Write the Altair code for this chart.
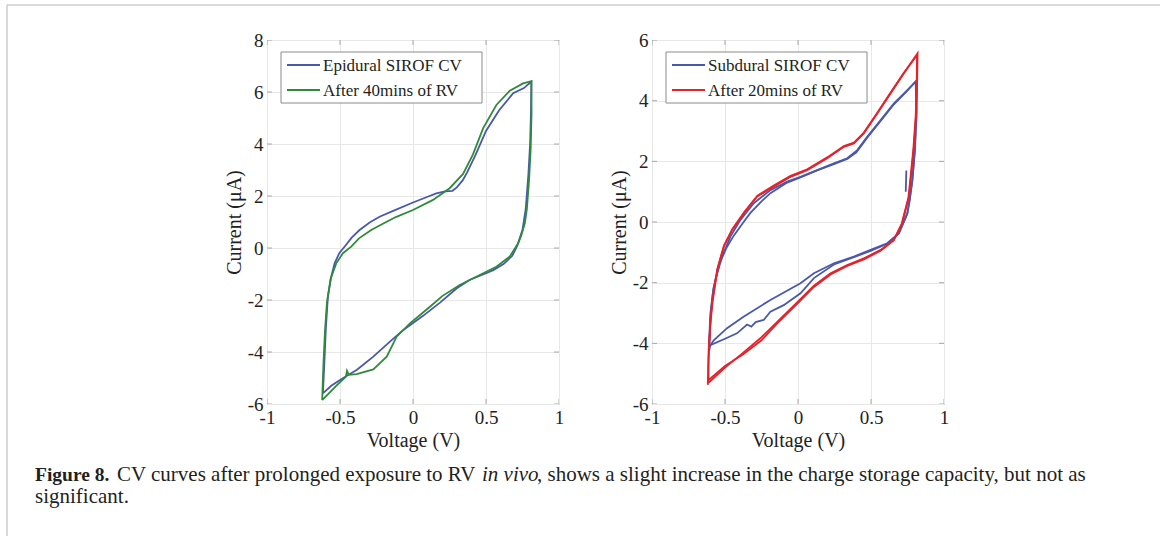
import altair as alt
import pandas as pd

# ---------------- data ----------------
x_ticks = [-1, -0.5, 0, 0.5, 1]
left_y_ticks = [-6, -4, -2, 0, 2, 4, 6, 8]
right_y_ticks = [-6, -4, -2, 0, 2, 4, 6]

epi_name = "Epidural SIROF CV"
rv40_name = "After 40mins of RV"
sub_name = "Subdural SIROF CV"
rv20_name = "After 20mins of RV"

epi_v = [-0.617, -0.607, -0.597, -0.583, -0.56, -0.537, -0.505, -0.469, -0.42, -0.366, -0.297, -0.229, -0.14, 0.0,
         0.1, 0.16, 0.22, 0.27, 0.30, 0.34, 0.37, 0.43, 0.50, 0.59, 0.686, 0.76, 0.79, 0.811,
         0.808, 0.802, 0.79, 0.772, 0.75, 0.715, 0.68, 0.62, 0.55, 0.48, 0.39, 0.30, 0.185, 0.071, -0.066, -0.158,
         -0.272, -0.386, -0.45, -0.5, -0.56, -0.617]
epi_i = [-5.59, -4.4, -3.1, -1.87, -1.1, -0.59, -0.2, 0.05, 0.4, 0.69, 0.98, 1.2, 1.42, 1.75,
         1.97, 2.1, 2.18, 2.2, 2.33, 2.6, 2.9, 3.6, 4.5, 5.3, 5.95, 6.15, 6.3, 6.4,
         5.2, 4.0, 2.8, 1.5, 0.7, 0.1, -0.3, -0.62, -0.85, -1.02, -1.22, -1.55, -2.1, -2.6, -3.15, -3.6,
         -4.18, -4.69, -4.9, -5.08, -5.3, -5.59]

rv40_v = [-0.622, -0.613, -0.603, -0.59, -0.565, -0.526, -0.48, -0.423, -0.37, -0.286, -0.2, -0.114, 0.0, 0.137,
          0.251, 0.343, 0.411, 0.48, 0.571, 0.663, 0.754, 0.811,
          0.812, 0.806, 0.795, 0.78, 0.766, 0.74, 0.72, 0.663, 0.571, 0.457, 0.32, 0.20, 0.116, -0.021, -0.112,
          -0.18, -0.272, -0.386, -0.44, -0.452, -0.46, -0.526, -0.622]
rv40_i = [-5.85, -4.4, -3.2, -2.13, -1.2, -0.59, -0.2, 0.05, 0.37, 0.69, 0.95, 1.2, 1.46, 1.85,
          2.3, 2.85, 3.6, 4.6, 5.5, 6.05, 6.33, 6.42,
          5.2, 3.8, 2.62, 1.5, 0.95, 0.45, 0.18, -0.33, -0.72, -1.04, -1.42, -1.85, -2.26, -2.9, -3.41,
          -4.18, -4.67, -4.85, -4.88, -4.72, -4.95, -5.3, -5.85]

sub_v1 = [-0.611, -0.605, -0.6, -0.585, -0.566, -0.52, -0.463, -0.394, -0.303, -0.189, -0.074, 0.017, 0.131,
          0.246, 0.337, 0.406, 0.474, 0.566, 0.657, 0.749, 0.806,
          0.81, 0.8, 0.783, 0.765, 0.749, 0.691, 0.611, 0.497, 0.383, 0.246, 0.109, 0.017, -0.189, -0.373,
          -0.486, -0.577, -0.605]
sub_i1 = [-4.22, -3.5, -3.01, -2.4, -1.91, -1.14, -0.48, 0.07, 0.62, 1.05, 1.33, 1.49, 1.71,
          1.93, 2.10, 2.37, 2.81, 3.36, 3.91, 4.35, 4.63,
          3.6, 2.4, 1.38, 0.7, 0.29, -0.37, -0.70, -0.92, -1.14, -1.36, -1.69, -2.02, -2.57, -3.12,
          -3.5, -3.9, -4.1]
sub_v2 = [-0.605, -0.608, -0.6, -0.58, -0.54, -0.49, -0.44, -0.38, -0.326, -0.25, -0.189, -0.074, 0.017, 0.131,
          0.246, 0.337, 0.40, 0.474, 0.566, 0.657, 0.749, 0.814,
          0.812, 0.8, 0.783, 0.749, 0.691, 0.611, 0.497, 0.383, 0.246, 0.109, 0.017, -0.098, -0.189, -0.235,
          -0.29, -0.32, -0.349, -0.418, -0.5, -0.601, -0.608]
sub_i2 = [-4.1, -4.25, -3.2, -2.2, -1.4, -0.85, -0.45, -0.05, 0.3, 0.68, 0.95, 1.3, 1.47, 1.7,
          1.91, 2.08, 2.3, 2.78, 3.33, 3.88, 4.33, 4.68,
          3.5, 2.3, 1.35, 0.27, -0.38, -0.72, -0.95, -1.16, -1.40, -1.85, -2.35, -2.74, -2.96, -3.23,
          -3.30, -3.45, -3.38, -3.67, -3.85, -4.06, -4.25]
sub_v0 = [0.738, 0.742]
sub_i0 = [1.0, 1.7]

rv20_v1 = [-0.618, -0.614, -0.611, -0.6, -0.589, -0.554, -0.509, -0.451, -0.371, -0.28, -0.166, -0.051, 0.063,
           0.2, 0.314, 0.383, 0.451, 0.543, 0.634, 0.726, 0.819,
           0.816, 0.81, 0.794, 0.776, 0.76, 0.714, 0.657, 0.566, 0.451, 0.337, 0.223, 0.109, -0.006, -0.144,
           -0.25, -0.373, -0.5, -0.613]
rv20_i1 = [-5.37, -4.5, -4.11, -3.3, -2.68, -1.58, -0.81, -0.26, 0.29, 0.84, 1.16, 1.49, 1.71,
           2.10, 2.48, 2.59, 2.92, 3.58, 4.24, 4.90, 5.56,
           4.6, 3.6, 2.48, 1.6, 0.84, -0.04, -0.59, -0.92, -1.20, -1.42, -1.69, -2.1, -2.65, -3.3,
           -3.8, -4.3, -4.8, -5.3]
rv20_v2 = [-0.613, -0.612, -0.608, -0.598, -0.585, -0.55, -0.505, -0.447, -0.368, -0.278, -0.166, -0.051, 0.063,
           0.2, 0.314, 0.383, 0.451, 0.543, 0.634, 0.726, 0.815,
           0.813, 0.806, 0.79, 0.772, 0.756, 0.71, 0.655, 0.566, 0.451, 0.337, 0.223, 0.109, -0.006, -0.144,
           -0.25, -0.373, -0.5, -0.61]
rv20_i2 = [-5.3, -4.6, -4.05, -3.25, -2.62, -1.52, -0.76, -0.21, 0.33, 0.87, 1.2, 1.52, 1.74,
           2.13, 2.5, 2.62, 2.95, 3.6, 4.27, 4.93, 5.5,
           4.5, 3.5, 2.4, 1.55, 0.8, -0.06, -0.61, -0.95, -1.23, -1.45, -1.73, -2.14, -2.7, -3.35,
           -3.9, -4.35, -4.75, -5.2]

caption_bold = "Figure 8."
caption_a = "CV curves after prolonged exposure to RV"
caption_italic = "in vivo"
caption_b = ", shows a slight increase in the charge storage capacity, but not as"
caption_line2 = "significant."

# ---------------- styling ----------------
FONT = "Liberation Serif"
BLUE = "#4a58ac"
GREEN = "#2f8a3b"
RED = "#e5222c"
BOX = "#8a8a8a"
W, H = 292, 364
one = pd.DataFrame({"k": [0]})


def series_df(name, cycles):
    rows = []
    for k, (vs, cs) in enumerate(cycles):
        for j, (v, c) in enumerate(zip(vs, cs)):
            rows.append({"V": v, "I": c, "series": name, "seg": k, "ord": j})
    return pd.DataFrame(rows)


def text(txt, x, y, size=21, weight="normal", style="normal"):
    return alt.Chart(one).mark_text(
        text=txt, align="left", baseline="alphabetic", font=FONT, fontSize=size,
        fontWeight=weight, fontStyle=style, color="#231f20",
    ).encode(x=alt.value(x), y=alt.value(y))


def legend_layers(names, colors):
    out = [
        alt.Chart(one).mark_rect(fill="white", stroke=BOX, strokeWidth=1).encode(
            x=alt.value(14), x2=alt.value(215), y=alt.value(12), y2=alt.value(63))
    ]
    for k, (nm, col) in enumerate(zip(names, colors)):
        yy = 25 + 25 * k
        out.append(alt.Chart(one).mark_rule(color=col, strokeWidth=1.8).encode(
            x=alt.value(20), x2=alt.value(53), y=alt.value(yy)))
        out.append(text(nm, 56, yy + 6, size=17))
    return out


def panel(dfs, names, colors, ydom, yticks, extra=None):
    xs = alt.Scale(domain=[-1, 1], nice=False, zero=False)
    ys = alt.Scale(domain=ydom, nice=False, zero=False)
    x = alt.X("V:Q", scale=xs, axis=alt.Axis(values=x_ticks, title="Voltage (V)", labelExpr="toString(datum.value)"))
    y = alt.Y("I:Q", scale=ys, axis=alt.Axis(values=yticks, title="Current (\u03bcA)", labelExpr="toString(datum.value)"))
    color = alt.Color("series:N", scale=alt.Scale(domain=names, range=colors), legend=None)
    layers = []
    xt = pd.DataFrame({"V": x_ticks})
    yt = pd.DataFrame({"I": yticks})
    for yy in (0, H):
        layers.append(
            alt.Chart(xt).mark_tick(size=10, thickness=1, color=BOX, clip=True, orient="vertical").encode(
                x=x, y=alt.value(yy))
        )
    for xx in (0, W):
        layers.append(
            alt.Chart(yt).mark_tick(size=10, thickness=1, color=BOX, clip=True, orient="horizontal").encode(
                y=y, x=alt.value(xx))
        )
    for df in dfs:
        layers.append(
            alt.Chart(df).mark_line(strokeWidth=1.8).encode(
                x=x, y=y, color=color, detail="seg:N", order="ord:Q")
        )
    layers += legend_layers(names, colors)
    if extra:
        layers += extra
    return alt.layer(*layers).properties(width=W, height=H)


frame_color = "#b4b4b4"
extras = [
    alt.Chart(one).mark_rule(color=frame_color, strokeWidth=1).encode(
        x=alt.value(-260), y=alt.value(-35), y2=alt.value(496)),
    alt.Chart(one).mark_rule(color=frame_color, strokeWidth=1).encode(
        x=alt.value(-260), x2=alt.value(893), y=alt.value(-35)),
    text(caption_bold, -232, 441, size=19.5, weight="bold"),
    text(caption_a, -150, 441),
    text(caption_italic, 215, 441, style="italic"),
    text(caption_b, 270, 441),
    text(caption_line2, -232, 463),
]

left = panel(
    [series_df(epi_name, [(epi_v, epi_i)]), series_df(rv40_name, [(rv40_v, rv40_i)])],
    [epi_name, rv40_name], [BLUE, GREEN], [-6, 8], left_y_ticks, extra=extras,
)
right = panel(
    [series_df(sub_name, [(sub_v1, sub_i1), (sub_v2, sub_i2), (sub_v0, sub_i0)]),
     series_df(rv20_name, [(rv20_v1, rv20_i1), (rv20_v2, rv20_i2)])],
    [sub_name, rv20_name], [BLUE, RED], [-6, 6], right_y_ticks,
)

chart = (
    alt.hconcat(left, right, spacing=93, bounds="flush")
    .resolve_scale(color="independent")
    .properties(padding={"left": 6, "top": 4, "right": 0, "bottom": 0}, background="white")
    .configure_view(stroke=BOX, strokeWidth=1)
    .configure_axis(
        labelFont=FONT, labelFontSize=19, labelColor="#222", labelOverlap=False, labelFlush=False,
        labelPadding=4, ticks=False, tickSize=0, domain=False,
        titleFont=FONT, titleFontSize=20, titleFontWeight="normal", titleColor="#222", titlePadding=3,
        gridColor="#e8e8e8", gridWidth=1,
    )
)

chart.save("out.html", embed_options={"renderer": "svg", "actions": False})
